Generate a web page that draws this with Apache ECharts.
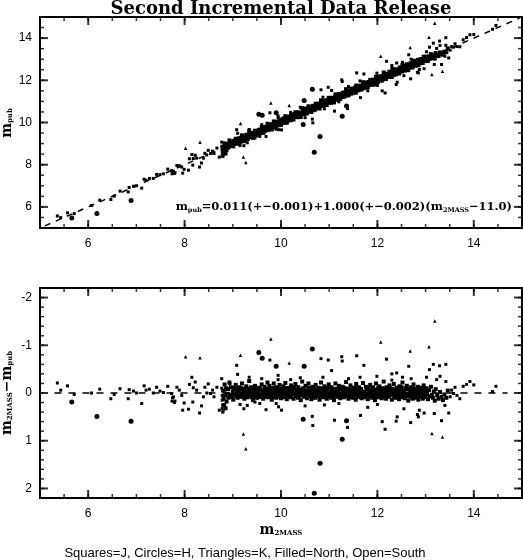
<!DOCTYPE html>
<html>
<head>
<meta charset="utf-8">
<script src="https://cdn.jsdelivr.net/npm/echarts@6/dist/echarts.min.js"></script>
<style>
  html, body { margin: 0; padding: 0; background: #fff; }
  #chart { width: 523px; height: 560px; }
</style>
</head>
<body>
<div id="chart"></div>
<script>
// each star: [m_2MASS, m_2MASS - m_pub]
const jSparse = [
  [5.36,-0.21],[5.43,-0.06],[5.57,-0.15],[5.71,0.03],[6.07,0.0],[6.24,-0.08],[6.47,0.12],[6.54,0.03],
  [6.66,-0.09],[6.83,0.12],[6.85,-0.07],[6.94,-0.04],[7.0,0.0],[7.11,0.22],[7.16,-0.15],[7.2,-0.06],
  [7.27,-0.08],[7.35,0.0],[7.42,-0.12],[7.49,-0.04],[7.56,-0.01],[7.65,-0.14],[7.73,0.01],[7.74,0.17],
  [7.75,0.1],[7.77,0.08],[7.79,0.2],[7.8,0.17],[7.84,-0.12],[7.89,-0.06],[7.94,0.05],[7.96,0.36],
  [7.99,0.21],[8.08,0.34],[8.1,-0.18],[8.15,-0.33],[8.17,0.19],[8.18,-0.11],[8.22,-0.23],[8.25,-0.06],
  [8.31,0.42],[8.35,0.27],[8.39,0.08],[8.42,-0.12],[8.46,0.0],[8.49,-0.19],[8.54,0.01],[8.58,-0.06],
  [8.61,0.08],[8.67,-0.12],[8.72,0.36],[8.77,-0.3],[8.77,-0.1],[8.78,0.05],[8.78,0.15],[8.79,0.25],
  [8.78,0.32],[8.79,0.4],[8.8,0.38],[8.84,-0.06],[8.91,0.01],[8.94,-0.19],[9.01,-0.12],[9.08,-0.58],
  [9.1,-0.39],[9.15,0.24],[9.23,0.33],[9.3,0.26],[9.34,-0.33],[9.39,0.1],[9.46,0.19],[9.56,0.22],
  [9.69,0.35],[9.77,-0.69],[9.94,-0.37],[9.95,0.29],[10.01,0.36],[9.94,-0.28],
  [9.6,-0.3],[10.2,-0.28],[10.9,0.25],[11.4,-0.3],[12.0,0.24],[12.7,-0.3],[10.5,0.27],[11.8,0.3],
  [9.9,0.22],[12.3,-0.27],[10.4,-0.32],[11.2,0.22],
  [10.65,0.49],[10.66,0.68],[10.83,-0.72],[10.98,-0.69],[10.87,-0.33],[11.05,-0.47],[11.11,0.57],
  [11.26,-0.76],[11.27,-0.67],[11.38,0.72],[11.57,-0.78],[11.65,0.47],[11.72,-0.58],[11.64,-0.33],
  [11.99,-0.35],[12.1,0.6],[12.16,0.76],[12.19,-0.71],[12.3,-0.4],[12.39,0.59],[12.4,-0.42],[12.41,0.5],
  [12.52,-0.33],[12.55,0.33],[12.65,-0.56],[12.69,0.62],[12.83,0.45],[12.85,0.5],[12.87,0.36],
  [12.97,0.42],[13.02,-0.33],[13.08,-0.49],[13.16,-0.6],[13.18,0.43],[13.23,-0.28],[13.29,-0.57],
  [13.3,-0.35],[13.33,0.58],[13.42,-0.6],[13.42,-0.24],[13.4,0.26],[13.48,0.42],[13.51,0.08],
  [13.54,-0.06],[13.58,0.01],[13.61,-0.12],[13.65,0.05],[13.71,0.12],[13.78,-0.14],[13.85,-0.18],
  [13.92,-0.24],[14.0,-0.17],[14.39,-0.03],[14.46,-0.14]
];

const jBand = [
  [8.80,-0.05],[8.81,0.12],[8.82,0.25],[8.83,-0.18],[8.84,0.05],[8.85,0.32],[8.86,-0.1],[8.87,0.18],
  [8.88,0.02],[8.90,-0.08],[8.91,0.1],[8.93,-0.22],[8.95,0.04],[8.96,-0.12],[8.98,0.08],[9.00,-0.03],
  [9.01,0.14],[9.03,-0.1],[9.04,0.02],[9.06,-0.17],[9.07,0.06],[9.09,-0.05],[9.10,0.1],[9.12,-0.02],
  [9.13,-0.12],[9.15,0.04],[9.16,-0.07],[9.18,0.08],[9.19,-0.2],[9.21,0.01],[9.22,-0.09],[9.24,0.12],
  [9.25,-0.04],[9.27,0.05],[9.28,-0.14],[9.30,0.0],[9.31,0.09],[9.33,-0.06],[9.34,-0.25],[9.36,0.03],
  [9.37,-0.1],[9.39,0.07],[9.40,-0.03],[9.42,0.15],[9.43,-0.08],[9.45,0.02],[9.46,-0.15],[9.48,0.06],
  [9.49,-0.05],[9.51,0.1],[9.52,-0.01],[9.54,-0.11],[9.55,0.04],[9.57,-0.07],[9.58,0.08],[9.60,-0.18],
  [9.61,0.0],[9.63,0.12],[9.64,-0.04],[9.66,-0.13],[9.67,0.05],[9.69,-0.08],[9.70,0.02],[9.72,-0.22],
  [9.73,0.09],[9.75,-0.03],[9.76,-0.15],[9.78,0.06],[9.79,-0.06],[9.81,0.14],[9.82,-0.1],[9.84,0.01],
  [9.85,-0.2],[9.87,0.07],[9.88,-0.04],[9.90,0.1],[9.91,-0.12],[9.93,0.03],[9.94,-0.07],[9.96,0.05],
  [9.97,-0.17],[9.99,0.0],[10.00,0.11],[10.02,-0.09],[10.03,0.04],[10.05,-0.14],[10.06,0.07],[10.08,-0.03],
  [10.09,-0.21],[10.11,0.02],[10.12,0.13],[10.14,-0.06],[10.15,0.05],[10.17,-0.11],[10.18,0.0],[10.20,0.09],
  [10.21,-0.16],[10.23,0.03],[10.24,-0.05],[10.26,0.12],[10.27,-0.09],[10.29,0.01],[10.30,-0.19],[10.32,0.06],
  [10.33,-0.02],[10.35,0.1],[10.36,-0.12],[10.38,0.04],[10.39,-0.07],[10.41,0.15],[10.42,-0.03],[10.44,-0.24],
  [10.45,0.05],[10.47,-0.1],[10.48,0.08],[10.50,-0.01],[10.51,-0.15],[10.53,0.03],[10.54,0.11],[10.56,-0.06],
  [10.57,-0.2],[10.59,0.02],[10.60,0.07],[10.62,-0.09],[10.63,0.13],[10.65,-0.04],[10.66,-0.13],[10.68,0.05],
  [10.69,-0.02],[10.71,0.1],[10.72,-0.17],[10.74,0.01],[10.75,-0.07],[10.77,0.06],[10.78,-0.11],[10.80,0.14],
  [10.81,-0.03],[10.83,-0.22],[10.84,0.04],[10.86,-0.08],[10.87,0.09],[10.89,0.0],[10.90,-0.14],[10.92,0.06],
  [10.93,-0.05],[10.95,0.12],[10.96,-0.1],[10.98,0.02],[10.99,-0.18],[11.01,0.07],[11.02,-0.03],[11.04,0.1],
  [11.05,-0.12],[11.07,0.03],[11.08,-0.06],[11.10,0.15],[11.11,-0.01],[11.13,-0.2],[11.14,0.05],[11.16,-0.09],
  [11.17,0.08],[11.19,-0.04],[11.20,-0.15],[11.22,0.02],[11.23,0.11],[11.25,-0.07],[11.26,0.04],[11.28,-0.13],
  [11.29,0.0],[11.31,0.09],[11.32,-0.1],[11.34,0.06],[11.35,-0.23],[11.37,0.01],[11.38,-0.05],[11.40,0.12],
  [11.41,-0.08],[11.43,0.03],[11.44,-0.16],[11.46,0.07],[11.47,-0.02],[11.49,0.1],[11.50,-0.11],[11.52,0.04],
  [11.53,-0.06],[11.55,0.14],[11.56,-0.19],[11.58,0.02],[11.59,-0.04],[11.61,0.08],[11.62,-0.12],[11.64,0.05],
  [11.65,-0.08],[11.67,0.11],[11.68,0.0],[11.70,-0.21],[11.71,0.06],[11.73,-0.03],[11.74,0.09],[11.76,-0.13],
  [11.77,0.03],[11.79,-0.07],[11.80,0.13],[11.82,-0.1],[11.83,0.01],[11.85,-0.17],[11.86,0.07],[11.88,-0.04],
  [11.89,0.1],[11.91,-0.12],[11.92,0.04],[11.94,-0.06],[11.95,0.15],[11.97,-0.2],[11.98,0.02],[12.00,-0.08],
  [12.01,0.09],[12.03,-0.02],[12.04,-0.14],[12.06,0.06],[12.07,-0.05],[12.09,0.11],[12.10,-0.1],[12.12,0.03],
  [12.13,-0.24],[12.15,0.07],[12.16,-0.03],[12.18,0.12],[12.19,-0.12],[12.21,0.01],[12.22,-0.07],[12.24,0.08],
  [12.25,-0.16],[12.27,0.04],[12.28,-0.05],[12.30,0.14],[12.31,-0.09],[12.33,0.02],[12.34,-0.19],[12.36,0.06],
  [12.37,-0.02],[12.39,0.1],[12.40,-0.11],[12.42,0.05],[12.43,-0.06],[12.45,0.13],[12.46,-0.14],[12.48,0.0],
  [12.49,-0.08],[12.51,0.09],[12.52,-0.22],[12.54,0.03],[12.55,-0.04],[12.57,0.11],[12.58,-0.1],[12.60,0.06],
  [12.61,-0.15],[12.63,0.02],[12.64,0.16],[12.66,-0.07],[12.67,0.04],[12.69,-0.12],[12.70,0.08],[12.72,-0.03],
  [12.73,0.12],[12.75,-0.18],[12.76,0.01],[12.78,-0.06],[12.79,0.1],[12.81,-0.09],[12.82,0.05],[12.84,-0.13],
  [12.85,0.14],[12.87,-0.02],[12.88,0.07],[12.90,-0.11],[12.91,0.03],[12.93,-0.07],[12.94,0.12],[12.96,-0.16],
  [12.97,0.05],[12.99,-0.04],[13.00,0.09],[13.02,-0.1],[13.03,0.02],[13.05,0.13],[13.07,-0.06],[13.09,0.07],
  [13.11,-0.13],[13.13,0.04],[13.15,0.1],[13.17,-0.03],[13.19,0.16],[13.21,-0.08],[13.24,0.05],[13.27,0.12],
  [13.30,-0.02],[13.33,0.08],[13.36,0.15],[13.39,0.03],[13.43,0.1],[13.46,-0.05]
];

const jCore = [
  [9.02,0.03],[9.05,-0.08],[9.08,0.05],[9.11,-0.04],[9.14,0.07],[9.17,-0.1],[9.20,0.02],[9.23,-0.05],
  [9.26,0.08],[9.29,-0.09],[9.32,0.04],[9.35,-0.02],[9.38,-0.12],[9.41,0.06],[9.44,-0.04],[9.47,0.09],
  [9.50,-0.07],[9.53,0.03],[9.56,-0.1],[9.59,0.05],[9.62,-0.06],[9.65,0.08],[9.68,-0.02],[9.71,0.04],
  [9.74,-0.09],[9.77,0.01],[9.80,-0.05],[9.83,0.07],[9.86,-0.11],[9.89,0.03],[9.92,-0.03],[9.95,0.08],
  [9.98,-0.08],[10.01,0.02],[10.04,-0.05],[10.07,0.09],[10.10,-0.1],[10.13,0.04],[10.16,-0.03],[10.19,0.06],
  [10.22,-0.08],[10.25,0.01],[10.28,-0.12],[10.31,0.05],[10.34,-0.06],[10.37,0.08],[10.40,-0.02],[10.43,0.03],
  [10.46,-0.09],[10.49,0.06],[10.52,-0.04],[10.55,0.02],[10.58,-0.11],[10.61,0.04],[10.64,-0.06],[10.67,0.09],
  [10.70,-0.08],[10.73,0.03],[10.76,-0.03],[10.79,0.06],[10.82,-0.1],[10.85,0.01],[10.88,-0.05],[10.91,0.08],
  [10.94,-0.07],[10.97,0.04],[11.00,-0.12],[11.03,0.02],[11.06,-0.04],[11.09,0.07],[11.12,-0.08],[11.15,0.03],
  [11.18,-0.02],[11.21,0.05],[11.24,-0.1],[11.27,0.06],[11.30,-0.05],[11.33,0.02],[11.36,-0.09],[11.39,0.05],
  [11.42,-0.03],[11.45,0.08],[11.48,-0.07],[11.51,0.01],[11.54,-0.11],[11.57,0.06],[11.60,-0.04],[11.63,0.03],
  [11.66,-0.08],[11.69,0.07],[11.72,-0.02],[11.75,0.04],[11.78,-0.1],[11.81,0.05],[11.84,-0.05],[11.87,0.02],
  [11.90,-0.08],[11.93,0.08],[11.96,-0.03],[11.99,0.04],[12.02,-0.11],[12.05,0.02],[12.08,-0.06],[12.11,0.07],
  [12.14,-0.09],[12.17,0.04],[12.20,-0.03],[12.23,0.05],[12.26,-0.1],[12.29,0.02],[12.32,-0.05],[12.35,0.09],
  [12.38,-0.07],[12.41,0.03],[12.44,-0.02],[12.47,0.06],[12.50,-0.12],[12.53,0.05],[12.56,-0.04],[12.59,0.02],
  [12.62,-0.08],[12.65,0.07],[12.68,-0.03],[12.71,0.04],[12.74,-0.1],[12.77,0.05],[12.80,-0.05],[12.83,0.02],
  [12.86,-0.07],[12.89,0.08],[12.92,-0.02],[12.95,0.03],[12.98,-0.09]
];

// larger round markers
const hPoints = [
  [5.66,0.19],[6.18,0.49],[6.89,0.59],[9.54,-0.85],[9.61,-0.73],[9.9,-0.56],[10.48,-0.56],[10.46,0.55],
  [10.65,-0.92],[10.81,1.47],[10.69,2.1],[11.27,0.97],[11.36,0.58]
];

const kPoints = [
  [8.02,-0.76],[8.32,-0.74],[9.16,-0.79],[10.17,-0.63],[12.68,-0.88],[13.07,-0.97],[12.07,-1.07],
  [13.19,-1.51],[9.79,-1.13],[9.22,0.86],[9.27,1.17],[13.13,0.85],[13.35,0.92]
];

const fitX = [5.1, 14.95];
const zeroX = [5.3, 14.7];
const xMajors = [6, 8, 10, 12, 14];
const yTopMajors = [6, 8, 10, 12, 14];
const yBotMajors = [-2, -1, 0, 1, 2];

const SERIF = '"DejaVu Serif", "Liberation Serif", serif';
const SANS = '"Liberation Sans", Arial, sans-serif';

function steps(from, to, step) {
  const out = [];
  for (let v = from; v <= to + 1e-9; v += step) out.push(+v.toFixed(2));
  return out;
}
const xMinor = steps(5.5, 14.5, 0.5);
const yTopMinor = steps(5.5, 14.5, 0.5);
const yBotMinor = steps(-2.0, 2.0, 0.2);

const chart = echarts.init(document.getElementById('chart'));

// frame line + labels per side
function sideAxis(grid, pos, min, max, majors, extra) {
  extra = extra || {};
  const ax = {
    type: 'value', gridIndex: grid, position: pos, min: min, max: max, splitLine: { show: false },
    axisLine: { show: true, onZero: false, lineStyle: { color: '#000', width: 2 } },
    axisTick: { show: false },
    axisLabel: extra.labels
      ? { show: true, customValues: majors, color: '#000', fontFamily: SANS, fontSize: 12, margin: extra.margin || 8 }
      : { show: false }
  };
  if (extra.inverse) ax.inverse = true;
  return ax;
}

const xAxes = [
  sideAxis(0, 'bottom', 5, 15, xMajors, { labels: true, margin: 10 }),
  sideAxis(0, 'top', 5, 15, xMajors),
  sideAxis(1, 'bottom', 5, 15, xMajors, { labels: true, margin: 10 }),
  sideAxis(1, 'top', 5, 15, xMajors)
];
const yAxes = [
  sideAxis(0, 'left', 5, 15, yTopMajors, { labels: true }),
  sideAxis(0, 'right', 5, 15, yTopMajors),
  sideAxis(1, 'left', -2.2, 2.2, yBotMajors, { labels: true, inverse: true }),
  sideAxis(1, 'right', -2.2, 2.2, yBotMajors, { inverse: true })
];

function topData(arr) { return arr.map(p => [p[0], +(p[0] - p[1]).toFixed(3)]); }

function markSeries(grid, data, symbol, size) {
  return {
    type: 'scatter', xAxisIndex: grid === 0 ? 0 : 2, yAxisIndex: grid === 0 ? 0 : 2,
    data: data, symbol: symbol, symbolSize: size, silent: true,
    itemStyle: { color: '#000', opacity: 1 }
  };
}

// inward tick marks on all four sides, placed at tick values on the plot edges
function tickSeries(grid, data, size, offset) {
  return {
    type: 'scatter', xAxisIndex: grid === 0 ? 0 : 2, yAxisIndex: grid === 0 ? 0 : 2,
    data: data, symbol: 'rect', symbolSize: size, symbolOffset: offset,
    clip: false, silent: true, z: 5, itemStyle: { color: '#000' }
  };
}
function frameTicks(grid, xs, xsMajor, ys, ysMajor, xMin, xMax, yBottom, yTop) {
  const out = [];
  [[xs, 4, 1.5], [xsMajor, 8, 2]].forEach(([vals, len, w]) => {
    out.push(tickSeries(grid, vals.map(v => [v, yBottom]), [w, len], [0, -len / 2]));
    out.push(tickSeries(grid, vals.map(v => [v, yTop]), [w, len], [0, len / 2]));
  });
  [[ys, 4, 1.5], [ysMajor, 8, 2]].forEach(([vals, len, w]) => {
    out.push(tickSeries(grid, vals.map(v => [xMin, v]), [len, w], [len / 2, 0]));
    out.push(tickSeries(grid, vals.map(v => [xMax, v]), [len, w], [-len / 2, 0]));
  });
  return out;
}

const series = [
  {
    type: 'line', xAxisIndex: 0, yAxisIndex: 0, symbol: 'none', silent: true,
    data: fitX.map(v => [v, v]),
    lineStyle: { color: '#000', width: 1.5, type: [6, 6] }
  },
  {
    type: 'line', xAxisIndex: 2, yAxisIndex: 2, symbol: 'none', silent: true,
    data: zeroX.map(v => [v, 0]),
    lineStyle: { color: '#000', width: 1.5, type: [7, 7] }
  },
  markSeries(0, topData(jSparse), 'rect', 3),
  markSeries(0, topData(jBand), 'rect', 4),
  markSeries(0, topData(jCore), 'rect', 4),
  markSeries(0, topData(hPoints), 'circle', 5),
  markSeries(0, topData(kPoints), 'triangle', 3.5),
  markSeries(1, jSparse, 'rect', 3),
  markSeries(1, jBand, 'rect', 4),
  markSeries(1, jCore, 'rect', 4),
  markSeries(1, hPoints, 'circle', 5),
  markSeries(1, kPoints, 'triangle', 3.5)
].concat(
  frameTicks(0, xMinor, xMajors, yTopMinor, yTopMajors, 5, 15, 5, 15),
  frameTicks(1, xMinor, xMajors, yBotMinor, yBotMajors, 5, 15, 2.2, -2.2)
);

const nameRich = {
  m: { fontFamily: SERIF, fontWeight: 'bold', fontSize: 14, fill: '#000' },
  s: { fontFamily: SERIF, fontWeight: 'bold', fontSize: 7, fill: '#000', padding: [7, 0, 0, 0] }
};

function nameText(x, y, text, rotation) {
  return {
    type: 'text', x: x, y: y, rotation: rotation || 0, silent: true,
    style: { text: text, fill: '#000', align: 'center', verticalAlign: 'middle', rich: nameRich }
  };
}

chart.setOption({
  backgroundColor: '#fff',
  animation: false,
  grid: [
    { left: 40, top: 17, width: 482, height: 211 },
    { left: 40, top: 288, width: 482, height: 210 }
  ],
  xAxis: xAxes,
  yAxis: yAxes,
  series: series,
  graphic: [
    {
      type: 'text', x: 281, y: 0, silent: true,
      style: {
        text: 'Second Incremental Data Release', fill: '#000',
        font: 'bold 18px ' + SERIF, align: 'center', verticalAlign: 'top'
      }
    },
    nameText(7, 123, '{m|m}{s|pub}', Math.PI / 2),
    nameText(7, 393, '{m|m}{s|2MASS}{m|\u2212m}{s|pub}', Math.PI / 2),
    nameText(281, 530, '{m|m}{s|2MASS}', 0),
    {
      type: 'text', x: 512, y: 207, silent: true,
      style: {
        text: '{m|m}{s|pub}{m|=0.011(+\u22120.001)+1.000(+\u22120.002)(m}{s|2MASS}{m|\u221211.0)}',
        fill: '#000', align: 'right', verticalAlign: 'middle',
        rich: {
          m: { fontFamily: SERIF, fontWeight: 'bold', fontSize: 11.5, fill: '#000' },
          s: { fontFamily: SERIF, fontWeight: 'bold', fontSize: 6.5, fill: '#000', padding: [6, 0, 0, 0] }
        }
      }
    },
    {
      type: 'text', x: 245, y: 553, silent: true,
      style: {
        text: 'Squares=J, Circles=H, Triangles=K, Filled=North, Open=South', fill: '#000',
        font: '13px ' + SANS, align: 'center', verticalAlign: 'middle'
      }
    }
  ]
});
</script>
</body>
</html>
